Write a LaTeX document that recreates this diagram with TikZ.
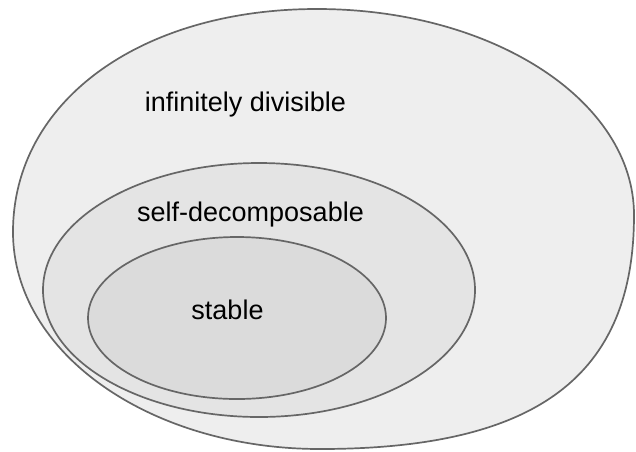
\documentclass[tikz,border=0pt]{standalone}
\usepackage{fontspec}
\setmainfont{Liberation Sans}
\definecolor{outerfill}{HTML}{EEEEEE}
\definecolor{midfill}{HTML}{E4E4E4}
\definecolor{innerfill}{HTML}{DBDBDB}
\definecolor{edgegray}{HTML}{666666}
\tikzset{
  region/.style={draw=edgegray, line width=1.7pt},
  lbl/.style={anchor=base, inner sep=0pt, font=\fontsize{27}{32}\selectfont, text=black}
}
\begin{document}
\begin{tikzpicture}[x=1pt,y=-1pt]
\useasboundingbox (0,0) rectangle (636,451);
\fill[white] (0,0) rectangle (636,451);
\draw[region, fill=outerfill]
  (317,9) .. controls (493,9) and (634,101) .. (634,215)
  .. controls (634,376) and (537,449) .. (320,449)
  .. controls (150,449) and (13,353) .. (13,232)
  .. controls (13,101) and (141,9) .. (317,9) -- cycle;
\draw[region, fill=midfill] (259,290) ellipse [x radius=216, y radius=127];
\draw[region, fill=innerfill] (237,318) ellipse [x radius=149, y radius=81];
\node[lbl] (inf) at (245.5,111) {infinitely divisible};
\node[lbl] (sd) at (250.5,221) {self-decomposable};
\node[lbl] (st) at (227.5,319) {stable};
\end{tikzpicture}
\end{document}
